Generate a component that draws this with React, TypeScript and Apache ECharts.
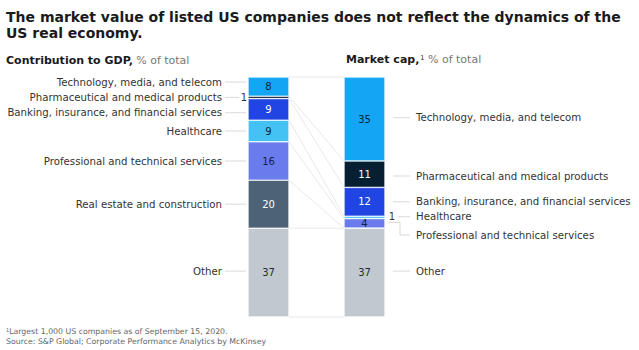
import React, { useEffect, useRef } from "react";
import * as echarts from "echarts";

// ---------- data ----------
const COLUMNS = ["Contribution to GDP", "Market cap"];
const SECTORS = [
  "Technology, media, and telecom",
  "Pharmaceutical and medical products",
  "Banking, insurance, and financial services",
  "Healthcare",
  "Professional and technical services",
  "Real estate and construction",
  "Other",
];
const GDP_SHARE = [8, 1, 9, 9, 16, 20, 37];
const MARKET_CAP_SHARE = [35, 11, 12, 1, 4, 0, 37];

const TITLE_LINES = [
  "The market value of listed US companies does not reflect the dynamics of the",
  "US real economy.",
];
const FOOTNOTE = "Largest 1,000 US companies as of September 15, 2020.";
const SOURCE = "Source: S&P Global; Corporate Performance Analytics by McKinsey";

// ---------- styles ----------
const FONT = "DejaVu Sans";
const SECTOR_COLORS = ["#14a6f4", "#061f33", "#2045e3", "#45c2f4", "#6a7bee", "#4d6276", "#c1c8d0"];
const VALUE_TEXT_COLORS = ["#0b2540", "#ffffff", "#ffffff", "#0b2540", "#0b2540", "#ffffff", "#1f2a36"];
const BAR_WIDTH = 41;
const LEFT_LABEL_DY = [-4.6, 0, 3.3, 0, 0, 0, -1.5];
const RIGHT_LABEL_DY = [-1.3, 1.8, 0, -0.7, 11.6, 0, -1.5];
const LINE_COLOR = "#cfcfcf";
const CONNECTOR_COLOR = "#e2e2e2";

function cumulative(arr: number[]) {
  const out = [0];
  arr.forEach((v) => out.push(out[out.length - 1] + v));
  return out;
}

export default function App() {
  const ref = useRef<HTMLDivElement>(null);

  useEffect(() => {
    document.body.style.margin = "0";
    const chart = echarts.init(ref.current!, null, { renderer: "svg" });

    const cumL = cumulative(GDP_SHARE);
    const cumR = cumulative(MARKET_CAP_SHARE);

    const barSeries = SECTORS.map((name, i) => ({
      name,
      type: "bar",
      stack: "total",
      barWidth: BAR_WIDTH,
      data: [GDP_SHARE[i], MARKET_CAP_SHARE[i]],
      itemStyle: { color: SECTOR_COLORS[i], borderColor: "#ffffff", borderWidth: 0.6 },
      label: {
        show: true,
        position: "inside",
        fontFamily: FONT,
        fontSize: 10,
        color: VALUE_TEXT_COLORS[i],
        formatter: (p: any) => (p.value >= 2 ? String(p.value) : ""),
      },
      emphasis: { disabled: true },
    }));

    const annotations = {
      type: "custom",
      silent: true,
      z: 1,
      data: [[0, 0]],
      encode: { x: 0, y: 1 },
      renderItem: (params: any, api: any) => {
        const half = BAR_WIDTH / 2;
        const xl = api.coord([0, 0])[0];
        const xr = api.coord([1, 0])[0];
        const y = (v: number) => api.coord([0, v])[1];
        const lEdge = xl + half;
        const lOuter = xl - half;
        const rEdge = xr - half;
        const rOuter = xr + half;
        const children: any[] = [];
        const lineStyle = { stroke: LINE_COLOR, lineWidth: 0.8 };

        for (let k = 0; k < cumL.length; k++) {
          children.push({
            type: "line",
            shape: { x1: lEdge, y1: y(cumL[k]), x2: rEdge, y2: y(cumR[k]) },
            style: { stroke: CONNECTOR_COLOR, lineWidth: 0.8 },
          });
        }

        SECTORS.forEach((name, i) => {
          const v = GDP_SHARE[i];
          if (v <= 0) return;
          const cy = y(cumL[i] + v / 2);
          const ly = cy + LEFT_LABEL_DY[i];
          children.push({
            type: "text",
            x: lOuter - 26,
            y: ly,
            style: { text: name, fontFamily: FONT, fontSize: 10.2, fill: "#333333", align: "right", verticalAlign: "middle" },
          });
          if (v < 2) {
            children.push({ type: "line", shape: { x1: lOuter - 23, y1: ly, x2: lOuter - 9, y2: ly }, style: lineStyle });
            children.push({
              type: "text",
              x: lOuter - 4,
              y: ly,
              style: { text: String(v), fontFamily: FONT, fontSize: 10, fill: "#333333", align: "center", verticalAlign: "middle" },
            });
          } else {
            children.push({ type: "line", shape: { x1: lOuter - 23, y1: ly, x2: lOuter - 2, y2: ly }, style: lineStyle });
          }
        });

        SECTORS.forEach((name, i) => {
          const v = MARKET_CAP_SHARE[i];
          if (v <= 0) return;
          const top = y(cumR[i]);
          const bot = y(cumR[i] + v);
          const cy = (top + bot) / 2;
          const ly = cy + RIGHT_LABEL_DY[i];
          children.push({
            type: "text",
            x: rOuter + 31,
            y: ly,
            style: { text: name, fontFamily: FONT, fontSize: 10.2, fill: "#333333", align: "left", verticalAlign: "middle" },
          });
          if (v < 2) {
            children.push({
              type: "text",
              x: rOuter + 7,
              y: ly,
              style: { text: String(v), fontFamily: FONT, fontSize: 10, fill: "#333333", align: "center", verticalAlign: "middle" },
            });
            children.push({ type: "line", shape: { x1: rOuter + 13, y1: ly, x2: rOuter + 25, y2: ly }, style: lineStyle });
          } else if (ly < top || ly > bot) {
            children.push({
              type: "polyline",
              shape: { points: [[rOuter + 3, cy - 1], [rOuter + 15, cy - 1], [rOuter + 15, ly], [rOuter + 25, ly]] },
              style: { ...lineStyle, fill: null },
            });
          } else {
            children.push({ type: "line", shape: { x1: rOuter + 8, y1: ly, x2: rOuter + 25, y2: ly }, style: lineStyle });
          }
        });

        return { type: "group", children };
      },
    };

    const option: any = {
      animation: false,
      grid: { left: 220.5, width: 192, top: 77, bottom: 33 },
      xAxis: { type: "category", data: COLUMNS, show: false },
      yAxis: { type: "value", min: 0, max: 100, inverse: true, show: false },
      series: [annotations, ...barSeries],
      graphic: [
        ...TITLE_LINES.map((t, i) => ({
          type: "text",
          left: 6,
          top: 10 + i * 15.5,
          style: { text: t, fontFamily: FONT, fontSize: 14, fontWeight: "bold", fill: "#1a1a1a" },
        })),
        {
          type: "text",
          left: 6,
          top: 54,
          style: {
            text: "{b|" + COLUMNS[0] + ",} {n|% of total}",
            rich: {
              b: { fontFamily: FONT, fontSize: 11, fontWeight: "bold", fill: "#1a1a1a" },
              n: { fontFamily: FONT, fontSize: 11, fill: "#777777" },
            },
          },
        },
        {
          type: "text",
          left: 346,
          top: 54,
          style: {
            text: "{b|" + COLUMNS[1] + ",}{s|1}{n| % of total}",
            rich: {
              b: { fontFamily: FONT, fontSize: 11, fontWeight: "bold", fill: "#1a1a1a" },
              s: { fontFamily: FONT, fontSize: 6.5, fill: "#1a1a1a", verticalAlign: "top", padding: [0, 0, 4, 1] },
              n: { fontFamily: FONT, fontSize: 11, fill: "#777777" },
            },
          },
        },
        {
          type: "text",
          left: 6,
          top: 327,
          style: {
            text: "{s|1}{n|" + FOOTNOTE + "}",
            rich: {
              s: { fontFamily: FONT, fontSize: 5, fill: "#666666", verticalAlign: "top", padding: [0, 0, 3, 0] },
              n: { fontFamily: FONT, fontSize: 7.8, fill: "#666666" },
            },
          },
        },
        {
          type: "text",
          left: 6,
          top: 337.5,
          style: { text: SOURCE, fontFamily: FONT, fontSize: 7.8, fill: "#666666" },
        },
      ],
    };

    chart.setOption(option);
    return () => chart.dispose();
  }, []);

  return <div ref={ref} style={{ width: 639, height: 350 }} />;
}
